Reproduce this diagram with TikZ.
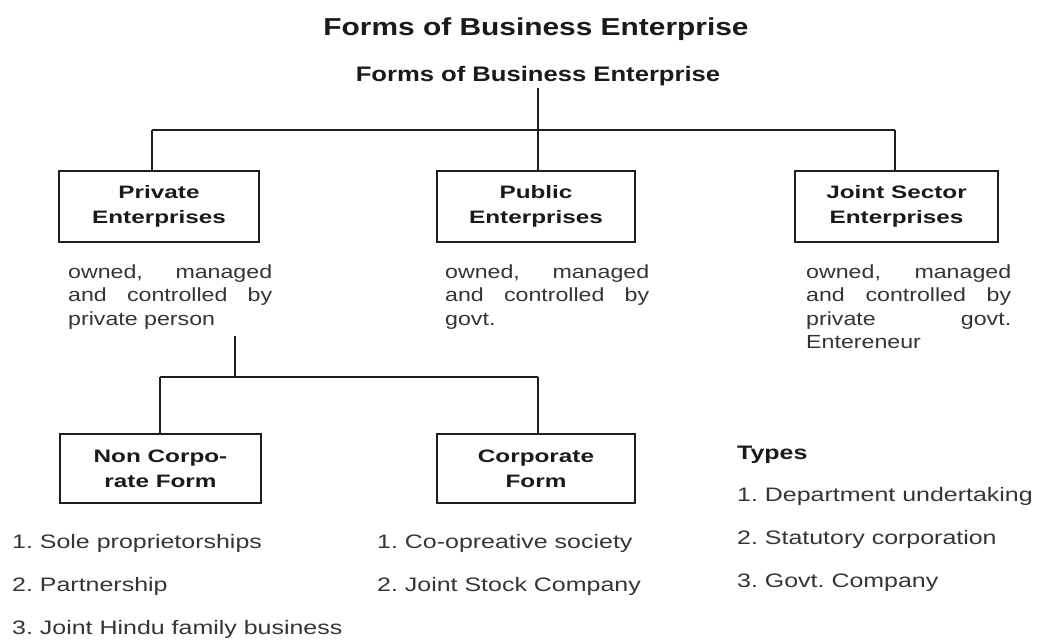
\documentclass[tikz,border=0pt]{standalone}
\usepackage{fontspec}
\setmainfont{Liberation Sans}
\newfontfamily\titlefont[FakeStretch=1.22]{Liberation Sans}
\newfontfamily\boxfont[FakeStretch=1.35]{Liberation Sans}
\newfontfamily\descfont[FakeStretch=1.22]{Liberation Sans}
\newfontfamily\listfont[FakeStretch=1.28]{Liberation Sans}
\definecolor{txt}{HTML}{353535}
\definecolor{btxt}{HTML}{1A1A1A}
\begin{document}
\begin{tikzpicture}[x=1pt,y=-1pt,
  conn/.style={line width=2.5pt, draw=black!88},
  box/.style={draw=black!88, line width=2.6pt, inner sep=0pt, align=center,
    text=btxt, font=\boxfont\bfseries\fontsize{18}{25}\selectfont},
  ttl/.style={inner sep=0pt, anchor=base, text=btxt},
  desc/.style={inner sep=0pt, anchor=base west, text=txt, font=\descfont\fontsize{19}{23.5}\selectfont},
  item/.style={inner sep=0pt, anchor=base west, text=txt, font=\listfont\fontsize{19.5}{24}\selectfont},
  head/.style={inner sep=0pt, anchor=base west, text=btxt, font=\listfont\bfseries\fontsize{19.5}{24}\selectfont}
]
\useasboundingbox (0,0) rectangle (1046,641);
\fill[white] (0,0) rectangle (1046,641);

% titles
\node[ttl, font=\titlefont\bfseries\fontsize{24.5}{28}\selectfont] (title1) at (536,35) {Forms of Business Enterprise};
\node[ttl, font=\titlefont\bfseries\fontsize{21}{25}\selectfont] (title2) at (538,81) {Forms of Business Enterprise};

% top level boxes
\node[box, minimum width=200pt, minimum height=71pt] (priv) at (159,206.5) {Private\\Enterprises};
\node[box, minimum width=198pt, minimum height=71pt] (pub) at (536,206.5) {Public\\Enterprises};
\node[box, minimum width=203pt, minimum height=71pt] (joint) at (896.5,206.5) {Joint Sector\\Enterprises};

% connectors top
\coordinate (t0) at (538,88);
\coordinate (hub) at (538,130);
\coordinate (hl) at (152,130);
\coordinate (hr) at (895,130);
\draw[conn] (t0) -- (hub);
\draw[conn] (hl) -- (hr);
\draw[conn] (hl) -- (hl |- priv.north);
\draw[conn] (hub) -- (hub |- pub.north);
\draw[conn] (hr) -- (hr |- joint.north);

% descriptions
\node[desc] (pd1) at (68,278) {\makebox[204pt][s]{owned, managed}};
\node[desc] (pd2) at (68,301.5) {\makebox[204pt][s]{and controlled by}};
\node[desc] (pd3) at (68,325) {private person};
\node[desc] (ud1) at (445,278) {\makebox[204pt][s]{owned, managed}};
\node[desc] (ud2) at (445,301.5) {\makebox[204pt][s]{and controlled by}};
\node[desc] (ud3) at (445,325) {govt.};
\node[desc] (jd1) at (806,278) {\makebox[205pt][s]{owned, managed}};
\node[desc] (jd2) at (806,301.5) {\makebox[205pt][s]{and controlled by}};
\node[desc] (jd3) at (806,325) {\makebox[205pt][s]{private govt.}};
\node[desc] (jd4) at (806,348.5) {Entereneur};

% second level boxes
\node[box, minimum width=201pt, minimum height=69pt] (noncorp) at (160.5,468.5) {Non Corpo-\\rate Form};
\node[box, minimum width=198pt, minimum height=69pt] (corp) at (536,468.5) {Corporate\\Form};

% connectors lower
\coordinate (p0) at (235,336);
\coordinate (sub) at (235,377);
\coordinate (sl) at (160,377);
\coordinate (sr) at (538,377);
\draw[conn] (p0) -- (sub);
\draw[conn] (sl) -- (sr);
\draw[conn] (sl) -- (sl |- noncorp.north);
\draw[conn] (sr) -- (sr |- corp.north);

% lists
\node[item] (l1) at (12,548) {1.\ Sole proprietorships};
\node[item] (l2) at (12,591) {2.\ Partnership};
\node[item] (l3) at (12,634) {3.\ Joint Hindu family business};
\node[item] (m1) at (377,548) {1.\ Co-opreative society};
\node[item] (m2) at (377,591) {2.\ Joint Stock Company};
\node[head] (types) at (737,459) {Types};
\node[item] (r1) at (737,501) {1.\ Department undertaking};
\node[item] (r2) at (737,544) {2.\ Statutory corporation};
\node[item] (r3) at (737,587) {3.\ Govt.\ Company};
\end{tikzpicture}
\end{document}
